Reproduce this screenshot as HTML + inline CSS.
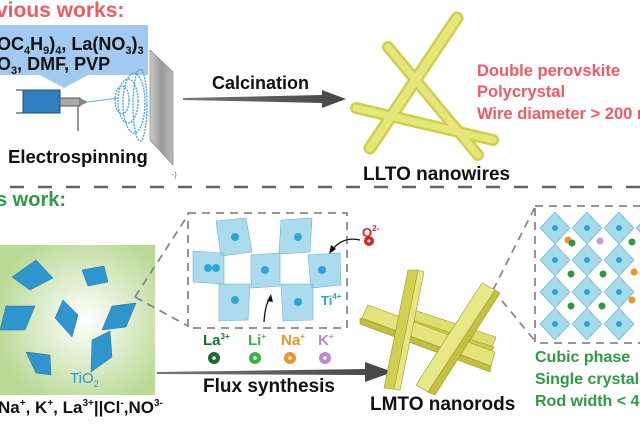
<!DOCTYPE html>
<html><head><meta charset="utf-8"><style>
html,body{margin:0;padding:0;background:#fff;width:640px;height:426px;overflow:hidden}
svg{display:block;font-family:"Liberation Sans",Arial,sans-serif;font-weight:bold}
</style></head><body>
<svg width="640" height="426" viewBox="0 0 640 426" xmlns="http://www.w3.org/2000/svg">
<defs>
<radialGradient id="gb" cx="0.55" cy="0.5" r="0.6"><stop offset="0" stop-color="#ffffff"/><stop offset="1" stop-color="#b9d994"/></radialGradient>
<linearGradient id="ar" x1="0" x2="1"><stop offset="0" stop-color="#777"/><stop offset="1" stop-color="#444"/></linearGradient>
<linearGradient id="plate" x1="0" x2="1"><stop offset="0" stop-color="#ccc"/><stop offset="0.5" stop-color="#999"/><stop offset="1" stop-color="#bbb"/></linearGradient>
</defs>

<!-- TOP -->
<text x="-4" y="17" font-size="21" fill="#f05a62">vious works:</text>
<path d="M0 25 H148 V75 H88 L64 88 L40 75 H0 Z" fill="#a2c9ef"/>
<text x="-3" y="50" font-size="18" fill="#111">OC<tspan font-size="11" dy="4">4</tspan><tspan dy="-4">H</tspan><tspan font-size="11" dy="4">9</tspan><tspan dy="-4">)</tspan><tspan font-size="11" dy="4">4</tspan><tspan dy="-4">, La(NO</tspan><tspan font-size="11" dy="4">3</tspan><tspan dy="-4">)</tspan><tspan font-size="11" dy="4">3</tspan></text>
<text x="-3" y="70" font-size="18" fill="#111">O<tspan font-size="11" dy="4">3</tspan><tspan dy="-4">, DMF, PVP</tspan></text>
<!-- syringe -->
<line x1="16" y1="90" x2="60" y2="90" stroke="#333" stroke-width="1"/>
<line x1="16" y1="113" x2="60" y2="113" stroke="#333" stroke-width="1"/>
<rect x="23" y="90" width="37" height="23" fill="#2f7fc0" stroke="#1d4d7a"/>
<rect x="60" y="98" width="20" height="8" fill="#aaa" stroke="#555"/>
<path d="M80 98 L88 102 L80 106 Z" fill="#888"/>
<line x1="78" y1="106" x2="78" y2="131" stroke="#555" stroke-width="1.2"/>
<line x1="88" y1="102" x2="118" y2="98" stroke="#5ab3e6" stroke-width="1"/>
<!-- spiral -->
<g fill="none" stroke="#4aa0dc" stroke-width="1.3" stroke-dasharray="2 1">
<ellipse cx="122" cy="100" rx="7" ry="14"/>
<ellipse cx="128" cy="101" rx="10" ry="22"/>
<ellipse cx="134" cy="103" rx="11" ry="30"/>
<ellipse cx="140" cy="105" rx="7" ry="36"/>
</g>
<path d="M150 50 L173 72 L173 165 L150 140 Z" fill="url(#plate)" stroke="#777" stroke-width="0.6"/>
<text x="172" y="177" font-size="7" font-weight="normal" fill="#555">-)</text>
<text x="8" y="163" font-size="18.5" fill="#111">Electrospinning</text>
<text x="212" y="89" font-size="18" fill="#111">Calcination</text>
<path d="M183 98 L322 95 L322 90 L346 99 L322 108 L322 103 L183 100 Z" fill="url(#ar)"/>
<!-- nanowires -->
<g stroke="#cfd04a" stroke-linecap="round" fill="none">
<line x1="457" y1="18" x2="370" y2="148" stroke-width="13"/>
<line x1="388" y1="47" x2="478" y2="155" stroke-width="12"/>
<line x1="356" y1="108" x2="493" y2="140" stroke-width="12"/>
</g>
<g stroke="#e6e77a" stroke-linecap="round" fill="none">
<line x1="457" y1="18" x2="370" y2="148" stroke-width="8"/>
<line x1="388" y1="47" x2="478" y2="155" stroke-width="7"/>
<line x1="356" y1="108" x2="493" y2="140" stroke-width="7"/>
</g>
<g font-size="16.5" fill="#f05a62">
<text x="477" y="76">Double perovskite</text>
<text x="477" y="97">Polycrystal</text>
<text x="477" y="119">Wire diameter &gt; 200 n</text>
</g>
<text x="363" y="180" font-size="19" fill="#111">LLTO nanowires</text>
<line x1="0" y1="187" x2="640" y2="187" stroke="#666" stroke-width="2.5" stroke-dasharray="14 14" stroke-dashoffset="-10"/>

<!-- BOTTOM -->
<text x="-4" y="206" font-size="20" fill="#2e9a44">s work:</text>
<rect x="0" y="245" width="155" height="150" fill="url(#gb)"/>
<g fill="#2e95cf" stroke="#1f6e9e" stroke-width="0.5">
<path d="M12 277 L36 260 L53 278 L30 290 Z"/>
<path d="M82 270 L104 266 L108 282 L88 286 Z"/>
<path d="M6 306 L35 306 L25 330 L0 330 Z"/>
<path d="M63 300 L78 315 L72 337 L55 318 Z"/>
<path d="M112 306 L136 303 L126 327 L102 330 Z"/>
<path d="M92 340 L110 331 L112 357 L91 372 Z"/>
<path d="M26 352 L50 355 L51 375 L36 373 Z"/>
</g>
<text x="70" y="383" font-size="15" font-weight="normal" fill="#2e95cf">TiO<tspan font-size="9" dy="4">2</tspan></text>
<text x="-2" y="413" font-size="17" fill="#111">Na<tspan font-size="10" dy="-7">+</tspan><tspan dy="7">, K</tspan><tspan font-size="10" dy="-7">+</tspan><tspan dy="7">, La</tspan><tspan font-size="10" dy="-7">3+</tspan><tspan dy="7">||Cl</tspan><tspan font-size="10" dy="-7">-</tspan><tspan dy="7">,NO</tspan><tspan font-size="10" dy="-7">3-</tspan></text>

<!-- zoom lines -->
<g stroke="#888" stroke-width="1.8" stroke-dasharray="8 6" fill="none">
<rect x="188" y="213" width="159" height="115"/>
<line x1="135" y1="297" x2="188" y2="215"/>
<line x1="135" y1="297" x2="188" y2="326"/>
<rect x="535" y="206" width="120" height="137"/>
<line x1="493" y1="290" x2="535" y2="207"/>
<line x1="493" y1="290" x2="535" y2="341"/>
</g>
<!-- crystal in box 1 -->
<g fill="#8fcfe6" fill-opacity="0.75" stroke="#6bb3cf" stroke-width="0.6">
<path d="M216 221 L246 218 L252 252 L221 256 Z"/>
<path d="M281 220 L312 218 L310 252 L279 254 Z"/>
<path d="M193 251 L224 253 L224 284 L193 282 Z"/>
<path d="M251 255 L280 253 L280 286 L251 288 Z"/>
<path d="M308 255 L340 253 L341 285 L311 288 Z"/>
<path d="M219 284 L250 284 L248 320 L219 321 Z"/>
<path d="M281 284 L313 284 L313 320 L283 321 Z"/>
</g>
<g fill="#2ba6d8">
<circle cx="235" cy="237" r="4"/><circle cx="298" cy="237" r="4"/><circle cx="208" cy="268" r="4"/><circle cx="216" cy="268" r="4"/>
<circle cx="265" cy="270" r="4"/><circle cx="322" cy="270" r="4"/><circle cx="235" cy="300" r="4"/><circle cx="298" cy="302" r="4"/>
</g>
<text x="321" y="305" font-size="13" fill="#2ba6d8">Ti<tspan font-size="8" dy="-6">4+</tspan></text>
<text x="362" y="237" font-size="13" fill="#d8232a">O<tspan font-size="8" dy="-6">2-</tspan></text>
<circle cx="369" cy="241" r="5" fill="#d8232a"/><circle cx="369" cy="241" r="1.5" fill="#fff"/>
<path d="M360 240 Q343 236 332 250" fill="none" stroke="#111" stroke-width="1.3"/>
<path d="M329 254 L331 245 L336 249 Z" fill="#111"/>
<path d="M264 322 Q265 305 270 298" fill="none" stroke="#111" stroke-width="1.3"/>
<path d="M271 294 L273 302 L267 301 Z" fill="#111"/>
<!-- ions -->
<text x="203" y="345" font-size="15" fill="#1e6b30">La<tspan font-size="8" dy="-6">3+</tspan></text>
<text x="248" y="345" font-size="15" fill="#3bb14a">Li<tspan font-size="8" dy="-6">+</tspan></text>
<text x="281" y="345" font-size="15" fill="#f0922a">Na<tspan font-size="8" dy="-6">+</tspan></text>
<text x="318" y="345" font-size="15" fill="#b68bd0">K<tspan font-size="8" dy="-6">+</tspan></text>
<circle cx="214" cy="358" r="6" fill="#1e6b30"/><circle cx="214" cy="358" r="1.8" fill="#fff"/>
<circle cx="255" cy="358" r="6" fill="#3bb14a"/><circle cx="255" cy="358" r="1.8" fill="#fff"/>
<circle cx="290" cy="358" r="6" fill="#f0922a"/><circle cx="290" cy="358" r="1.8" fill="#fff"/>
<circle cx="325" cy="358" r="6" fill="#b68bd0"/><circle cx="325" cy="358" r="1.8" fill="#fff"/>
<path d="M157 372 L365 369 L365 362 L393 372 L365 382 L365 375 L157 374 Z" fill="url(#ar)"/>
<text x="203" y="392" font-size="19" fill="#111">Flux synthesis</text>
<!-- nanorods -->
<g stroke="#9a9a2a" stroke-width="0.6">
<path d="M405 307 L496 337 L492 347 L401 317 Z" fill="#dede70"/>
<path d="M403 317 L494 347 L490 354 L400 324 Z" fill="#c9c94a"/>
<path d="M362 318 L368 305 L495 352 L491 366 Z" fill="#e4e47c"/>
<path d="M360 318 L491 366 L490 372 L360 324 Z" fill="#c0c040"/>
<path d="M418 270 L424 272 L400 390 L393 389 Z" fill="#e6e684"/>
<path d="M394 389 L384 388 L408 270 L418 270 Z" fill="#d0d052"/>
<path d="M482 283 L495 290 L428 392 L416 385 Z" fill="#e8e888"/>
<path d="M495 290 L500 293 L435 395 L428 392 Z" fill="#c2c23f"/>
</g>
<text x="370" y="410" font-size="19" fill="#111">LMTO nanorods</text>
<!-- crystal box 2 -->
<g fill="#8fcfe6" fill-opacity="0.8" stroke="#6bb3cf" stroke-width="0.6">
<path d="M555 212 L570 228 L555 244 L540 228 Z"/><path d="M587 212 L602 228 L587 244 L572 228 Z"/><path d="M619 212 L634 228 L619 244 L604 228 Z"/><path d="M651 212 L666 228 L651 244 L636 228 Z"/>
<path d="M555 244 L570 260 L555 276 L540 260 Z"/><path d="M587 244 L602 260 L587 276 L572 260 Z"/><path d="M619 244 L634 260 L619 276 L604 260 Z"/>
<path d="M555 276 L570 292 L555 308 L540 292 Z"/><path d="M587 276 L602 292 L587 308 L572 292 Z"/><path d="M619 276 L634 292 L619 308 L604 292 Z"/>
<path d="M555 308 L570 324 L555 340 L540 324 Z"/><path d="M587 308 L602 324 L587 340 L572 324 Z"/><path d="M619 308 L634 324 L619 340 L604 324 Z"/>
</g>
<g fill="#2ba6d8">
<circle cx="555" cy="228" r="3"/><circle cx="587" cy="228" r="3"/><circle cx="619" cy="228" r="3"/>
<circle cx="555" cy="260" r="3"/><circle cx="587" cy="260" r="3"/><circle cx="619" cy="260" r="3"/>
<circle cx="555" cy="292" r="3"/><circle cx="587" cy="292" r="3"/><circle cx="619" cy="292" r="3"/>
<circle cx="555" cy="324" r="3"/><circle cx="587" cy="324" r="3"/><circle cx="619" cy="324" r="3"/>
</g>
<circle cx="568" cy="240" r="3.5" fill="#f0922a"/><circle cx="572" cy="243" r="3.5" fill="#2e9a44"/>
<circle cx="600" cy="241" r="3.5" fill="#c49ad8"/><circle cx="632" cy="242" r="3.5" fill="#2e9a44"/>
<circle cx="571" cy="274" r="3.5" fill="#2e9a44"/><circle cx="603" cy="274" r="3.5" fill="#2e9a44"/><circle cx="634" cy="272" r="3.5" fill="#f0922a"/>
<circle cx="571" cy="306" r="3.5" fill="#2e9a44"/><circle cx="602" cy="306" r="3.5" fill="#2e9a44"/><circle cx="632" cy="300" r="3.5" fill="#f0922a"/>
<g font-size="16" fill="#2e9a44">
<text x="535" y="362">Cubic phase</text>
<text x="535" y="384">Single crystal</text>
<text x="535" y="406">Rod width &lt; 4</text>
</g>
</svg>
</body></html>
